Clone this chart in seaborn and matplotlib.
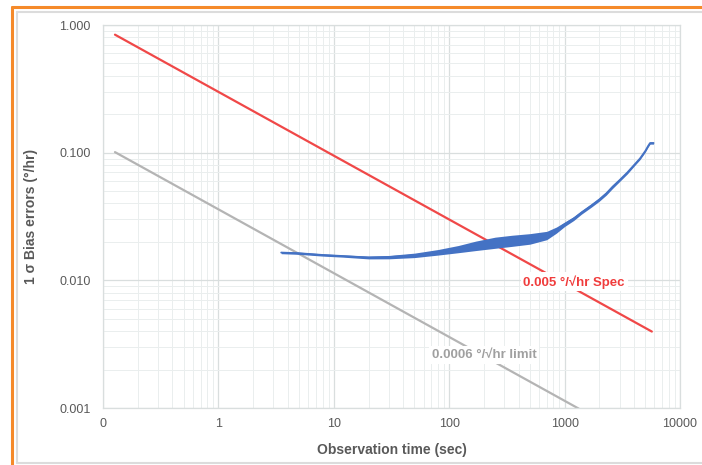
import numpy as np
import pandas as pd
import matplotlib.pyplot as plt
from matplotlib.lines import Line2D
from matplotlib.ticker import FixedLocator, LogLocator, NullFormatter
import seaborn as sns

obs_time = [3.5, 5, 8, 12, 20, 30, 50, 80, 120, 170, 250, 350, 500, 700, 850,
            1000, 1200, 1400, 1700, 2000, 2300, 2600, 3000, 3500, 4000, 4500,
            5000, 5300, 5500, 5900]
bias_mid = [0.0165, 0.0163, 0.0158, 0.0155, 0.0151, 0.0152, 0.0157, 0.0166,
            0.0176, 0.0187, 0.0198, 0.0205, 0.0212, 0.0225, 0.0248, 0.0275,
            0.0305, 0.034, 0.0385, 0.043, 0.048, 0.054, 0.061, 0.070, 0.080,
            0.090, 0.103, 0.113, 0.119, 0.119]
# noise band edges
bias_low = [0.01617, 0.01597, 0.01548, 0.01519, 0.01472, 0.01474, 0.01507,
            0.01577, 0.01646, 0.01711, 0.01782, 0.01845, 0.01919, 0.02081,
            0.02344, 0.0264, 0.02943, 0.03298, 0.03735, 0.04171, 0.04656,
            0.05238, 0.05948, 0.06825, 0.0784, 0.0882, 0.10094, 0.11074,
            0.11662, 0.11662]
bias_high = [0.01683, 0.01663, 0.01612, 0.01581, 0.01548, 0.01566, 0.01633,
             0.01743, 0.01874, 0.02029, 0.02178, 0.02255, 0.02321, 0.02419,
             0.02616, 0.0286, 0.03157, 0.03502, 0.03966, 0.04429, 0.04944,
             0.05562, 0.06253, 0.07175, 0.0816, 0.0918, 0.10506, 0.11526,
             0.12138, 0.12138]

# reference lines (end points)
spec_t = [0.127, 5700]
spec_y = [0.84, 0.00397]
limit_t = [0.127, 1330]
limit_y = [0.101, 0.000987]

x_ticks = [0.1, 1, 10, 100, 1000, 10000]
x_labels = ["0", "1", "10", "100", "1000", "10000"]
y_ticks = [0.001, 0.01, 0.1, 1]
y_labels = ["0.001", "0.010", "0.100", "1.000"]

sns.set_style("white")
plt.rcParams['font.family'] = ['Liberation Sans', 'DejaVu Sans']

fig = plt.figure(figsize=(7.02, 4.65), dpi=100)
ax = fig.add_axes([103 / 702, 1 - 408 / 465, 577 / 702, 383 / 465])

meas = pd.DataFrame({"t": obs_time, "y": bias_mid})
ax.fill_between(obs_time, bias_low, bias_high, color="#4472c4", lw=0, zorder=3)
sns.lineplot(data=meas, x="t", y="y", ax=ax, color="#4472c4", lw=1.3, zorder=3)
sns.lineplot(x=spec_t, y=spec_y, ax=ax, color="#f04848", lw=1.6, zorder=2)
sns.lineplot(x=limit_t, y=limit_y, ax=ax, color="#b4b4b4", lw=1.6, zorder=2)

ax.set_xscale("log")
ax.set_yscale("log")
ax.set_xlim(0.1, 10000)
ax.set_ylim(0.001, 1)

ax.xaxis.set_major_locator(FixedLocator(x_ticks))
ax.set_xticklabels(x_labels)
ax.yaxis.set_major_locator(FixedLocator(y_ticks))
ax.set_yticklabels(y_labels)
ax.xaxis.set_minor_locator(LogLocator(base=10, subs=np.arange(2, 10)))
ax.yaxis.set_minor_locator(LogLocator(base=10, subs=np.arange(2, 10)))
ax.xaxis.set_minor_formatter(NullFormatter())
ax.yaxis.set_minor_formatter(NullFormatter())

ax.tick_params(axis="both", which="both", length=0, colors="#595959", labelsize=9)
ax.tick_params(axis="y", pad=9)
ax.tick_params(axis="x", pad=7)
ax.grid(which="major", color="#d9dede", lw=0.9)
ax.grid(which="minor", color="#eaeeee", lw=0.7)
for s in ax.spines.values():
    s.set_color("#d9dede")
    s.set_linewidth(0.9)

ax.set_xlabel("Observation time (sec)", fontsize=10, fontweight="bold", color="#595959")
ax.set_ylabel("1 σ Bias errors (°/hr)", fontsize=10, fontweight="bold", color="#595959")
ax.xaxis.set_label_coords(0.5, -0.091)
ax.yaxis.set_label_coords(-0.113, 0.5)

ax.text(1208, 0.00972, "0.005 °/√hr Spec", color="#f03c3c", fontsize=9.5,
        fontweight="bold", ha="center", va="center", zorder=4,
        bbox=dict(facecolor="white", edgecolor="none", pad=2))
ax.text(200, 0.0026, "0.0006 °/√hr limit", color="#a0a0a0", fontsize=9.5,
        fontweight="bold", ha="center", va="center", zorder=4,
        bbox=dict(facecolor="white", edgecolor="none", pad=2))

# frame around the picture
fig.add_artist(Line2D([17 / 702, 17 / 702], [2 / 465, 1 - 12 / 465], color="#dcdcdc", lw=1.5))
fig.add_artist(Line2D([17 / 702, 1], [1 - 12 / 465, 1 - 12 / 465], color="#dcdcdc", lw=1.5))
fig.add_artist(Line2D([17 / 702, 1], [2 / 465, 2 / 465], color="#dcdcdc", lw=1.5))
fig.add_artist(Line2D([12 / 702, 12 / 702], [0, 1 - 7 / 465], color="#f58a2a", lw=2.2))
fig.add_artist(Line2D([12 / 702, 1], [1 - 7 / 465, 1 - 7 / 465], color="#f58a2a", lw=2.2))

fig.savefig("out.png", dpi=100)
